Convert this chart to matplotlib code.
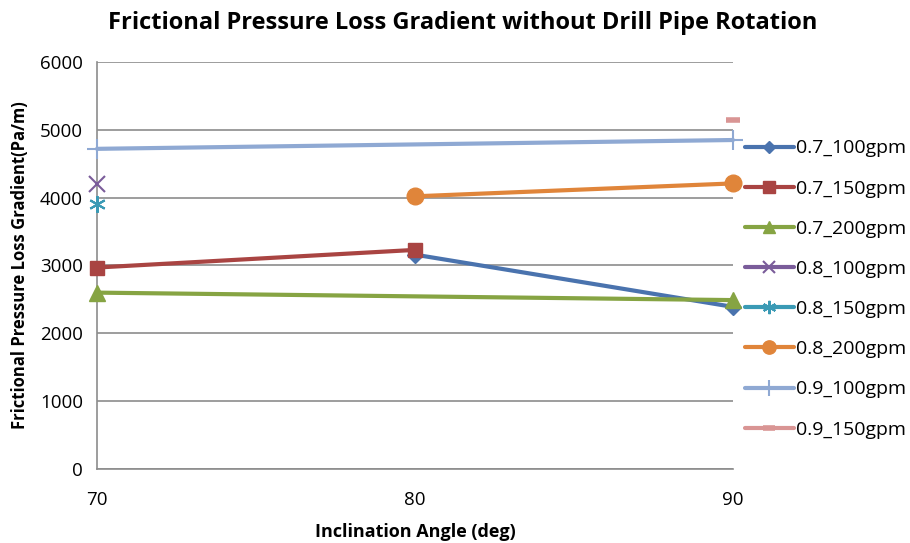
import numpy as np
import matplotlib
matplotlib.use("Agg")
import matplotlib.pyplot as plt

plt.rcParams['font.family'] = ['Open Sans', 'DejaVu Sans']

angles = [70, 80, 90]
nan = np.nan

s07_100 = [nan, 3160, 2390]
s07_150 = [2970, 3230, nan]
s07_200 = [2600, nan, 2490]
s08_100 = [4200, nan, nan]
s08_150 = [3900, nan, nan]
s08_200 = [nan, 4020, 4210]
s09_100 = [4720, nan, 4850]
s09_150 = [nan, nan, 5140]

series = [
    ("0.7_100gpm", s07_100, "#4a73ae", "D", 8),
    ("0.7_150gpm", s07_150, "#a94442", "s", 10),
    ("0.7_200gpm", s07_200, "#86a443", "^", 11),
    ("0.8_100gpm", s08_100, "#7a5c9a", "x", 11),
    ("0.8_150gpm", s08_150, "#3a9ab5", (6, 2, 0), 12),
    ("0.8_200gpm", s08_200, "#e0853a", "o", 12),
    ("0.9_100gpm", s09_100, "#8fa9d3", "+", 14),
    ("0.9_150gpm", s09_150, "#d99594", "_", 10),
]

fig = plt.figure(figsize=(9.1, 5.43), dpi=100)
ax = fig.add_axes([0.1066, 0.1363, 0.6989, 0.7495])

x = np.array(angles, dtype=float)
for label, vals, color, marker, ms in series:
    y = np.array(vals, dtype=float)
    mask = ~np.isnan(y)
    mew = 1.5 if marker in ("x", "+", (6, 2, 0)) else 1
    if marker == "_":
        mew = 4
    ax.plot(x[mask], y[mask], color=color, lw=3, marker=marker, ms=ms,
            mew=mew, mec=color, mfc=color, label=label,
            solid_capstyle='round', clip_on=False, zorder=3)

ax.set_xlim(70, 90)
ax.set_ylim(0, 6000)
ax.set_xticks(angles)
ax.set_yticks(range(0, 6001, 1000))
ax.grid(axis='y', color='#8c8c8c', lw=1.2)
ax.set_axisbelow(True)
for side in ("top", "right"):
    ax.spines[side].set_visible(False)
ax.spines['left'].set_color('#8c8c8c')
ax.spines['bottom'].set_color('#8c8c8c')
ax.spines['left'].set_linewidth(1.2)
ax.spines['bottom'].set_linewidth(1.2)
ax.tick_params(axis='y', length=0, pad=10, labelsize=13.5)
ax.tick_params(axis='x', length=0, pad=16, labelsize=13.5)

ax.set_xlabel("Inclination Angle (deg)", fontsize=13, fontweight='bold', labelpad=10)
ax.set_ylabel("Frictional Pressure Loss Gradient(Pa/m)", fontsize=12, fontweight='bold', labelpad=8)
fig.suptitle("Frictional Pressure Loss Gradient without Drill Pipe Rotation",
             fontsize=17, fontweight='bold', x=0.508, y=0.98)

ax.legend(loc='upper left', bbox_to_anchor=(1.019, 0.81), frameon=False,
          fontsize=14, handlelength=2.5, handletextpad=0.1,
          labelspacing=1.14, borderaxespad=0, borderpad=0, markerscale=0.8)

fig.savefig("out.png", dpi=100)
